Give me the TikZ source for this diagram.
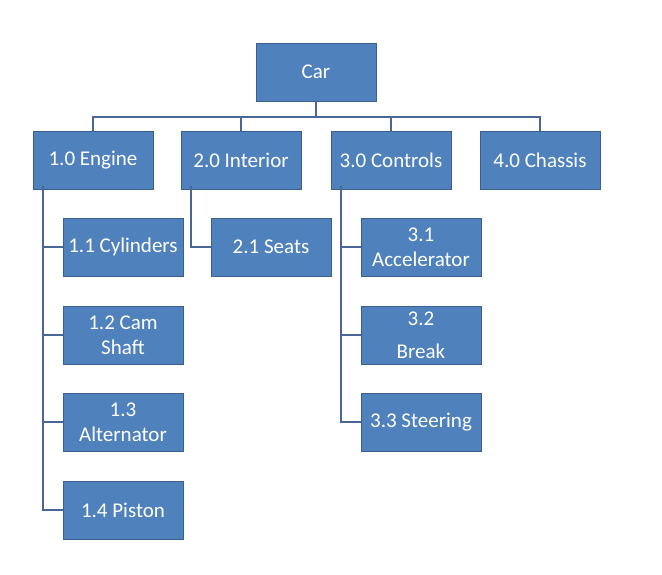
\documentclass[tikz,border=0pt]{standalone}
\usepackage{fontspec}
\setmainfont{Carlito}
\definecolor{boxblue}{RGB}{79,129,189}
\definecolor{boxedge}{RGB}{60,95,145}
\definecolor{linkblue}{RGB}{72,102,150}
\tikzset{
  wbs/.style={rectangle, fill=boxblue, draw=boxedge, line width=0.8pt, text=white,
    minimum width=120, minimum height=58, align=center, inner sep=2pt,
    font=\fontsize{21}{25}\selectfont},
  link/.style={draw=linkblue, line width=2pt}
}
\begin{document}
\begin{tikzpicture}[x=1pt,y=-1pt]
\useasboundingbox[fill=white] (0,0) rectangle (662,575);
% top level
\node[wbs] (car) at (316,72) {Car};
\node[wbs] (engine) at (93,160) {1.0 Engine};
\node[wbs] (interior) at (241,160) {2.0 Interior};
\node[wbs] (controls) at (391,160) {3.0 Controls};
\node[wbs] (chassis) at (540,160) {4.0 Chassis};
% engine parts
\node[wbs] (cylinders) at (123,247) {1.1 Cylinders};
\node[wbs] (camshaft) at (123,335) {1.2 Cam\\Shaft};
\node[wbs] (alternator) at (123,422) {1.3\\Alternator};
\node[wbs] (piston) at (123,510) {1.4 Piston};
% interior and controls
\node[wbs] (seats) at (271,247) {2.1 Seats};
\node[wbs] (accelerator) at (421,247) {3.1\\Accelerator};
\node[wbs] (break) at (421,335) {3.2\\[8pt]Break};
\node[wbs] (steering) at (421,422) {3.3 Steering};
% connectors
\foreach \n in {engine,interior,controls,chassis}
\draw[link] (car.south) -- ++(0,16) -| (\n.north);
\foreach \n in {cylinders,camshaft,alternator,piston}
\draw[link] ([xshift=10,yshift=3]engine.south west) |- (\n.west);
\draw[link] ([xshift=10,yshift=3]interior.south west) |- (seats.west);
\foreach \n in {accelerator,break,steering}
\draw[link] ([xshift=10,yshift=3]controls.south west) |- (\n.west);
\end{tikzpicture}
\end{document}
